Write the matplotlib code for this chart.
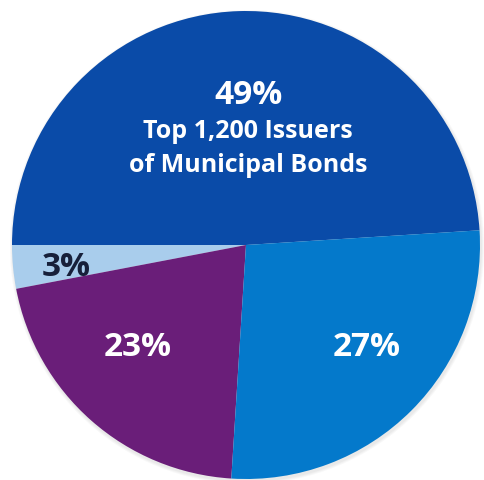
import matplotlib
matplotlib.use("Agg")
import matplotlib.pyplot as plt
from matplotlib.patches import Circle

# slice sizes as drawn (angles) and their printed labels
shares = [49, 3, 21, 27]
pct_labels = ["49%", "3%", "23%", "27%"]
title_lines = ["Top 1,200 Issuers", "of Municipal Bonds"]

BLUE_D = "#0a4ba8"
BLUE_L = "#0479cb"
PURPLE = "#6a1e79"
SKY = "#a9cdec"
NAVY = "#17203a"
colors = [BLUE_D, SKY, PURPLE, BLUE_L]

W, H = 484, 481
fig = plt.figure(figsize=(W / 100, H / 100), dpi=100)
ax = fig.add_axes([0, 0, 1, 1])

cx, cy, r = 246, H - 246, 234

# soft drop shadow
for k, a in enumerate([0.05, 0.05, 0.06]):
    ax.add_patch(Circle((cx + 1, cy - 2), r + 3 - k, fc="#777777", ec="none",
                        alpha=a, zorder=0))

ax.pie(shares, colors=colors, startangle=3.6, counterclock=True,
       center=(cx, cy), radius=r, frame=True,
       wedgeprops=dict(lw=0, antialiased=True))
ax.set_xlim(0, W); ax.set_ylim(0, H)
ax.set_aspect("equal"); ax.axis("off")

FONT = ["Open Sans", "DejaVu Sans"]
BIG = dict(ha="center", va="center", fontsize=24, fontweight="bold", family=FONT)
SUB = dict(ha="center", va="center", fontsize=18, fontweight="bold", family=FONT,
           color="white")
ax.text(248, H - 95, pct_labels[0], color="white", **BIG)
ax.text(248, H - 132, title_lines[0], **SUB)
ax.text(248, H - 165, title_lines[1], **SUB)
ax.text(66, H - 268, pct_labels[1], color=NAVY, **BIG)
ax.text(138, H - 347, pct_labels[2], color="white", **BIG)
ax.text(367, H - 347, pct_labels[3], color="white", **BIG)

fig.savefig("out.png", dpi=100, facecolor="white")
